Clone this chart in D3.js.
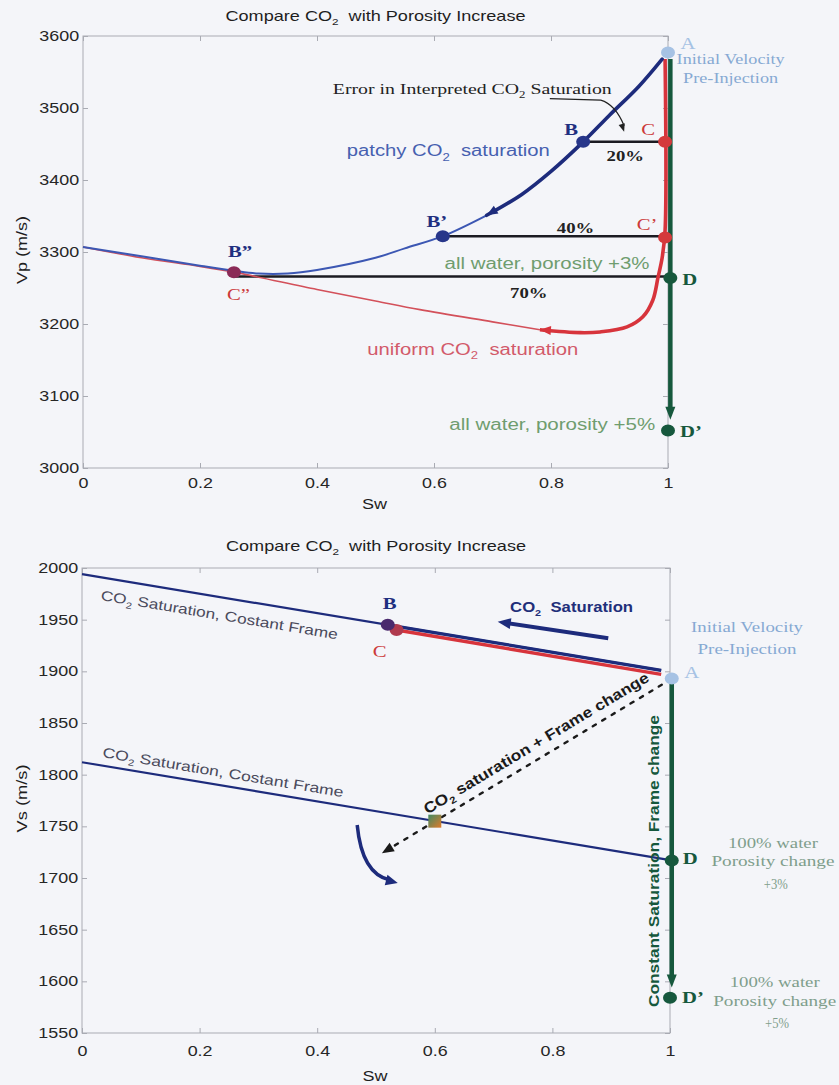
<!DOCTYPE html>
<html>
<head>
<meta charset="utf-8">
<script src="https://cdn.jsdelivr.net/npm/d3@7/dist/d3.min.js"></script>
<style>
  html, body { margin: 0; padding: 0; background: #f4f5f9; }
  svg { display: block; }
  text { white-space: pre; }
</style>
</head>
<body>
<svg id="fig" width="839" height="1085"></svg>
<script>
// ---------- shared axes ----------
const swTicks = [0, 0.2, 0.4, 0.6, 0.8, 1];
const vpTicks = [3000, 3100, 3200, 3300, 3400, 3500, 3600];
const vsTicks = [1550, 1600, 1650, 1700, 1750, 1800, 1850, 1900, 1950, 2000];

// ---------- Vp panel ----------
// patchy CO2 saturation path (Sw, Vp)
const patchySw = [0, 0.1, 0.2, 0.258, 0.3, 0.35, 0.4, 0.5, 0.55, 0.615, 0.69, 0.75, 0.8, 0.855, 0.9, 0.95, 0.99];
const patchyVp = [3307, 3294, 3281, 3274, 3270, 3270, 3275, 3292, 3305, 3322, 3351, 3380, 3412, 3453, 3490, 3530, 3568];
const patchyArrowSw = 0.69;
// uniform CO2 saturation path (Sw, Vp)
const uniformSw = [0, 0.1, 0.2, 0.258, 0.4, 0.5, 0.576, 0.7, 0.781, 0.85, 0.884, 0.93, 0.957, 0.974, 0.983, 0.99, 0.995, 0.995];
const uniformVp = [3307, 3292, 3280, 3272, 3248, 3232, 3220, 3203, 3192, 3188, 3189, 3196, 3210, 3233, 3265, 3292, 3330, 3568];
const uniformArrowSw = 0.781;
// all-water porosity increase path
const porosityVpSw = 1.004;
const porosityVp = [3568, 3067];
// labelled states
const vpPointNames = ['A', 'B', 'C', 'B’', 'C’', 'B”', 'D', 'D’'];
const vpPointSw = [1.0, 0.855, 0.995, 0.615, 0.995, 0.258, 1.004, 1.0];
const vpPointVp = [3577, 3453, 3453, 3322, 3320, 3272, 3264, 3052];
// interpretation error between patchy and uniform
const gapFromSw = [0.855, 0.615, 0.258];
const gapToSw = [0.995, 0.995, 1.0];
const gapVp = [3453, 3322, 3266];
const gapPct = ['20%', '40%', '70%'];

// ---------- Vs panel ----------
const frameSw = [0, 0.985];
const frameVs = [1994, 1901];
const frame2Sw = [0, 1.003];
const frame2Vs = [1812, 1717];
const patchyVsSw = [0.52, 0.985];
const patchyVs = [1945, 1901];
const uniformVsSw = [0.535, 0.985];
const uniformVs = [1940, 1897];
const porosityVsSw = 1.003;
const porosityVs = [1890, 1594];
const combSw = [0.986, 0.51];
const combVs = [1887, 1724];
const mixSw = 0.6, mixVs = 1755;
const vsPointNames = ['A', 'B', 'C', 'D', 'D’'];
const vsPointSw = [1.003, 0.52, 0.535, 1.003, 1.0];
const vsPointVs = [1893, 1945, 1940, 1717, 1584];

// ---------- styling ----------
const SANS = '"Liberation Sans", Arial, Helvetica, sans-serif';
const SERIF = '"Liberation Serif", "Times New Roman", Times, serif';
const AXIS = '#a9abb3';
const STRETCH = 1.28;
const NAVY = '#1d2b7c', BLUE = '#3c57b3', RED = '#d7343c', REDTHIN = '#d3505a',
      GREEN = '#16583d', LIGHTBLUE = '#a6c2e4';

const svg = d3.select('#fig');
svg.append('rect').attr('width', 839).attr('height', 1085).attr('fill', '#f4f5f9');
const defs = svg.append('defs');
const grad = defs.append('linearGradient').attr('id', 'mixFill')
  .attr('x1', '0').attr('y1', '0').attr('x2', '1').attr('y2', '1');
grad.append('stop').attr('offset', '0%').attr('stop-color', '#3f8a63');
grad.append('stop').attr('offset', '100%').attr('stop-color', '#e07a2a');

function addText(parent, o) {
  const sz = o.size || 14;
  const t = parent.append('text')
    .attr('transform', `translate(${o.x},${o.y})` + (o.sx ? ` scale(${o.sx},1)` : '') + (o.rot ? ` rotate(${o.rot})` : ''))
    .attr('font-family', o.fam || SANS)
    .attr('font-size', sz)
    .attr('font-weight', o.bold ? 'bold' : 'normal')
    .attr('fill', o.fill || '#222')
    .attr('text-anchor', o.anchor || 'start');
  if (o.len) t.attr('textLength', o.len).attr('lengthAdjust', 'spacingAndGlyphs');
  const parts = o.s.split('₂');
  parts.forEach((p, i) => {
    if (i > 0) {
      t.append('tspan').attr('dy', sz * 0.28).attr('font-size', sz * 0.65).text('2');
      t.append('tspan').attr('dy', -sz * 0.28).text(p);
    } else if (p) t.append('tspan').text(p);
  });
  return t;
}

function arrowHead(parent, fx, fy, tipX, tipY, len, half, color) {
  const a = Math.atan2(tipY - fy, tipX - fx);
  const bxp = tipX - len * Math.cos(a), byp = tipY - len * Math.sin(a);
  const px = -Math.sin(a) * half, py = Math.cos(a) * half;
  parent.append('path')
    .attr('d', `M${tipX},${tipY}L${bxp + px},${byp + py}L${bxp - px},${byp - py}Z`)
    .attr('fill', color);
}

function dot(parent, x, y, color) {
  parent.append('ellipse').attr('cx', x).attr('cy', y).attr('rx', 7).attr('ry', 6).attr('fill', color);
}

function frame(g, x, y, yTicks, o) {
  const [xl, xr] = x.range();
  const [yb, yt] = y.range();
  const styleTicks = sel => {
    sel.select('.domain').remove();
    sel.selectAll('.tick line').attr('stroke', AXIS);
    sel.selectAll('.tick text').attr('font-family', SANS).attr('font-size', 14).attr('fill', '#262626');
  };
  g.append('rect').attr('x', xl).attr('y', yt).attr('width', xr - xl).attr('height', yb - yt)
    .attr('fill', 'none').attr('stroke', AXIS).attr('stroke-width', 1);
  const xa = g.append('g').attr('transform', `translate(0,${yb})`)
    .call(d3.axisBottom(x).tickValues(swTicks).tickFormat(d3.format('~g')).tickSize(-5).tickPadding(o.xPad));
  styleTicks(xa);
  xa.selectAll('.tick text').attr('transform', `scale(${STRETCH},1)`);
  const ya = g.append('g').attr('transform', `translate(${xl},0)`)
    .call(d3.axisLeft(y).tickValues(yTicks).tickFormat(d3.format('d')).tickSize(-5).tickPadding(3));
  styleTicks(ya);
  ya.selectAll('.tick text').attr('transform', `scale(${STRETCH},1)`);
  styleTicks(g.append('g').attr('transform', `translate(0,${yt})`)
    .call(d3.axisTop(x).tickValues(swTicks).tickFormat(() => '').tickSize(-5)));
  styleTicks(g.append('g').attr('transform', `translate(${xr},0)`)
    .call(d3.axisRight(y).tickValues(yTicks).tickFormat(() => '').tickSize(-5)));
  const cx = (xl + xr) / 2;
  addText(g, { x: cx, y: o.titleY, s: 'Compare CO₂  with Porosity Increase', size: 14.5, anchor: 'middle', len: 300, fill: '#1e1e1e' });
  addText(g, { x: cx - 1, y: o.xLabY, s: 'Sw', size: 14, anchor: 'middle', len: 25, fill: '#1e1e1e' });
  addText(g, { x: 27, y: (yb + yt) / 2 - 2, s: o.yLabel, size: 14, anchor: 'middle', rot: -90, len: 68, fill: '#1e1e1e' });
}

// ================= Vp panel =================
const tx = d3.scaleLinear().domain([0, 1]).range([83, 668]);
const ty = d3.scaleLinear().domain([3000, 3600]).range([468, 36]);
const gTop = svg.append('g');
frame(gTop, tx, ty, vpTicks, { titleY: 21, xLabY: 509, yLabel: 'Vp (m/s)', xPad: 10 });

// error gaps
gapVp.forEach((v, i) => {
  gTop.append('line')
    .attr('x1', tx(gapFromSw[i])).attr('x2', tx(gapToSw[i]))
    .attr('y1', ty(v)).attr('y2', ty(v))
    .attr('stroke', '#1b1b22').attr('stroke-width', 2.5);
});

// porosity increase (all water)
{
  const x = tx(porosityVpSw), y0 = ty(porosityVp[0]), y1 = ty(porosityVp[1]);
  gTop.append('line').attr('x1', x).attr('x2', x).attr('y1', y0).attr('y2', y1 - 10)
    .attr('stroke', GREEN).attr('stroke-width', 4.5);
  arrowHead(gTop, x, y0, x, y1, 13, 5, GREEN);
}

const vpLine = d3.line().x(d => tx(d[0])).y(d => ty(d[1])).curve(d3.curveCatmullRom.alpha(0.5));
const uniformPts = uniformSw.map((s, i) => [s, uniformVp[i]]);
const patchyPts = patchySw.map((s, i) => [s, patchyVp[i]]);

// uniform saturation (red)
gTop.append('path').attr('d', vpLine(uniformPts.filter(d => d[0] <= uniformArrowSw)))
  .attr('fill', 'none').attr('stroke', REDTHIN).attr('stroke-width', 1.6);
gTop.append('path').attr('d', vpLine(uniformPts.filter(d => d[0] >= uniformArrowSw)))
  .attr('fill', 'none').attr('stroke', RED).attr('stroke-width', 3.6).attr('stroke-linejoin', 'round');
{
  const i = uniformSw.indexOf(uniformArrowSw);
  arrowHead(gTop, tx(uniformSw[i + 1]), ty(uniformVp[i + 1]), tx(uniformSw[i]), ty(uniformVp[i]), 11, 4.5, RED);
}

// patchy saturation (blue)
gTop.append('path').attr('d', vpLine(patchyPts.filter(d => d[0] <= patchyArrowSw)))
  .attr('fill', 'none').attr('stroke', BLUE).attr('stroke-width', 2);
gTop.append('path').attr('d', vpLine(patchyPts.filter(d => d[0] >= patchyArrowSw)))
  .attr('fill', 'none').attr('stroke', NAVY).attr('stroke-width', 3.6).attr('stroke-linecap', 'round');
{
  const i = patchySw.indexOf(patchyArrowSw);
  arrowHead(gTop, tx(patchySw[i + 1]), ty(patchyVp[i + 1]), tx(patchySw[i]), ty(patchyVp[i]), 11, 4.5, NAVY);
}

// error annotation arrow
{
  const p0 = [tx(0.798), ty(3513)], p1 = [tx(0.885), ty(3511)], c = [tx(0.91), ty(3505)], p2 = [tx(0.925), ty(3467)];
  gTop.append('path').attr('d', `M${p0}L${p1}Q${c} ${p2[0]},${p2[1] - 6}`)
    .attr('fill', 'none').attr('stroke', '#222').attr('stroke-width', 1.2);
  arrowHead(gTop, c[0], c[1], p2[0], p2[1], 8, 3.2, '#222');
}

// state markers
const vpDotColor = { 'A': LIGHTBLUE, 'B': '#27368a', 'C': '#d43a3c', 'B’': '#27368a', 'C’': '#d43a3c', 'B”': '#8a2a57', 'D': GREEN, 'D’': GREEN };
vpPointNames.forEach((n, i) => dot(gTop, tx(vpPointSw[i]), ty(vpPointVp[i]), vpDotColor[n]));

const vpLabelStyle = {
  'A': { dx: 20, dy: -4, anchor: 'middle', fill: LIGHTBLUE, bold: false },
  'B': { dx: -12, dy: -7, anchor: 'middle', fill: '#1f2f80', bold: true },
  'C': { dx: -17, dy: -7, anchor: 'middle', fill: '#cc3a3a', bold: false },
  'B’': { dx: -6, dy: -9, anchor: 'middle', fill: '#1f2f80', bold: true },
  'C’': { dx: -18, dy: -8, anchor: 'middle', fill: '#cc3a3a', bold: false },
  'B”': { dx: -6, dy: -15, anchor: 'start', fill: '#1f2f80', bold: true },
  'D': { dx: 12, dy: 7, anchor: 'start', fill: GREEN, bold: true },
  'D’': { dx: 12, dy: 6, anchor: 'start', fill: GREEN, bold: true }
};
vpPointNames.forEach((n, i) => {
  const st = vpLabelStyle[n];
  addText(gTop, { x: tx(vpPointSw[i]) + st.dx, y: ty(vpPointVp[i]) + st.dy, s: n, fam: SERIF, size: 17, sx: 1.22,
    anchor: st.anchor, fill: st.fill, bold: st.bold });
});
{
  const i = vpPointNames.indexOf('B”');
  addText(gTop, { x: tx(vpPointSw[i]) - 7, y: ty(vpPointVp[i]) + 28, s: 'C”', fam: SERIF, size: 17, sx: 1.22, fill: '#cc3a3a' });
}

// gap percentages
const pctPos = [[0.927, 3427], [0.842, 3326], [0.762, 3236]];
gapPct.forEach((p, i) => addText(gTop, { x: tx(pctPos[i][0]), y: ty(pctPos[i][1]), s: p, fam: SERIF, size: 15, sx: 1.25,
  bold: true, anchor: 'middle', fill: '#222' }));

addText(gTop, { x: tx(0.427), y: ty(3520), s: 'Error in Interpreted CO₂ Saturation', fam: SERIF, size: 15.5, len: 279, fill: '#222' });
addText(gTop, { x: tx(0.451), y: ty(3433), s: 'patchy CO₂  saturation', size: 16, len: 203, fill: '#4660b0' });
addText(gTop, { x: tx(0.618), y: ty(3276), s: 'all water, porosity +3%', size: 16, len: 205, fill: '#6f9d6f' });
addText(gTop, { x: tx(0.486), y: ty(3157), s: 'uniform CO₂  saturation', size: 16, len: 211, fill: '#d25a6a' });
addText(gTop, { x: tx(0.626), y: ty(3053), s: 'all water, porosity +5%', size: 16, len: 206, fill: '#6f9d6f' });
addText(gTop, { x: tx(1.107), y: ty(3561), s: 'Initial Velocity', fam: SERIF, size: 15, len: 108, anchor: 'middle', fill: '#86a9d3' });
addText(gTop, { x: tx(1.107), y: ty(3535), s: 'Pre-Injection', fam: SERIF, size: 15, len: 95, anchor: 'middle', fill: '#86a9d3' });

// ================= Vs panel =================
const bx = d3.scaleLinear().domain([0, 1]).range([82, 670]);
const by = d3.scaleLinear().domain([1550, 2000]).range([1033, 568]);
const gBot = svg.append('g');
frame(gBot, bx, by, vsTicks, { titleY: 551, xLabY: 1081, yLabel: 'Vs (m/s)', xPad: 13 });

// constant-frame saturation lines
gBot.append('line').attr('x1', bx(frameSw[0])).attr('y1', by(frameVs[0])).attr('x2', bx(frameSw[1])).attr('y2', by(frameVs[1]))
  .attr('stroke', NAVY).attr('stroke-width', 2.2);
gBot.append('line').attr('x1', bx(frame2Sw[0])).attr('y1', by(frame2Vs[0])).attr('x2', bx(frame2Sw[1])).attr('y2', by(frame2Vs[1]))
  .attr('stroke', NAVY).attr('stroke-width', 2.2);

// porosity (frame) change at full water saturation
{
  const x = bx(porosityVsSw), y0 = by(porosityVs[0]), y1 = by(porosityVs[1]);
  gBot.append('line').attr('x1', x).attr('x2', x).attr('y1', y0).attr('y2', y1 - 10)
    .attr('stroke', GREEN).attr('stroke-width', 4.5);
  arrowHead(gBot, x, y0, x, y1, 13, 5, GREEN);
}

// uniform and patchy paths coincide for Vs
gBot.append('line').attr('x1', bx(uniformVsSw[0])).attr('y1', by(uniformVs[0])).attr('x2', bx(uniformVsSw[1])).attr('y2', by(uniformVs[1]))
  .attr('stroke', RED).attr('stroke-width', 3.4);
gBot.append('line').attr('x1', bx(patchyVsSw[0])).attr('y1', by(patchyVs[0])).attr('x2', bx(patchyVsSw[1])).attr('y2', by(patchyVs[1]))
  .attr('stroke', NAVY).attr('stroke-width', 3.2);

// combined saturation + frame change (dashed)
{
  const x0 = bx(combSw[0]), y0 = by(combVs[0]), x1 = bx(combSw[1]), y1 = by(combVs[1]);
  const a = Math.atan2(y1 - y0, x1 - x0);
  gBot.append('line').attr('x1', x0).attr('y1', y0).attr('x2', x1 - 9 * Math.cos(a)).attr('y2', y1 - 9 * Math.sin(a))
    .attr('stroke', '#1a1a1a').attr('stroke-width', 2.4).attr('stroke-dasharray', '3.5,7.5').attr('stroke-linecap', 'round');
  arrowHead(gBot, x0, y0, x1, y1, 12, 5, '#1a1a1a');
  const ang = Math.atan2(y0 - y1, x0 - x1) * 180 / Math.PI;
  addText(gBot, { x: bx(0.777), y: by(1826.3), s: 'CO₂ saturation + Frame change', size: 15, bold: true, rot: ang,
    anchor: 'middle', len: 260, fill: '#1a1a1a' });
}

// mixed state marker
gBot.append('rect').attr('x', bx(mixSw) - 6.5).attr('y', by(mixVs) - 6.5).attr('width', 13).attr('height', 13)
  .attr('fill', 'url(#mixFill)');

// curved arrow
{
  const p0 = [bx(0.468), by(1751.3)], c = [bx(0.476), by(1704)], p1 = [bx(0.537), by(1695.2)];
  gBot.append('path').attr('d', `M${p0}Q${c} ${p1[0] - 8},${p1[1] - 3}`)
    .attr('fill', 'none').attr('stroke', NAVY).attr('stroke-width', 3.5);
  arrowHead(gBot, c[0], c[1], p1[0], p1[1], 12, 5.5, NAVY);
}

// CO2 saturation direction arrow
{
  const p0 = [bx(0.895), by(1932)], p1 = [bx(0.707), by(1948)];
  const a = Math.atan2(p1[1] - p0[1], p1[0] - p0[0]);
  gBot.append('line').attr('x1', p0[0]).attr('y1', p0[1]).attr('x2', p1[0] - 10 * Math.cos(a)).attr('y2', p1[1] - 10 * Math.sin(a))
    .attr('stroke', NAVY).attr('stroke-width', 4);
  arrowHead(gBot, p0[0], p0[1], p1[0], p1[1], 13, 5.5, NAVY);
  addText(gBot, { x: bx(0.728), y: by(1957.4), s: 'CO₂  Saturation', size: 15, bold: true, len: 123, fill: '#1f2f7a' });
}

// state markers
const vsDotColor = { 'A': LIGHTBLUE, 'B': '#4a2a6e', 'C': '#b03a4e', 'D': GREEN, 'D’': GREEN };
['C', 'B', 'A', 'D', 'D’'].forEach(n => {
  const i = vsPointNames.indexOf(n);
  dot(gBot, bx(vsPointSw[i]), by(vsPointVs[i]), vsDotColor[n]);
});
const vsLabelStyle = {
  'A': { dx: 20, dy: -1, anchor: 'middle', fill: LIGHTBLUE, bold: false },
  'B': { dx: 2, dy: -16, anchor: 'middle', fill: '#1f2f80', bold: true },
  'C': { dx: -17, dy: 27, anchor: 'middle', fill: '#cc3a3a', bold: false },
  'D': { dx: 11, dy: 4, anchor: 'start', fill: GREEN, bold: true },
  'D’': { dx: 12, dy: 5, anchor: 'start', fill: GREEN, bold: true }
};
vsPointNames.forEach((n, i) => {
  const st = vsLabelStyle[n];
  addText(gBot, { x: bx(vsPointSw[i]) + st.dx, y: by(vsPointVs[i]) + st.dy, s: n, fam: SERIF, size: 17, sx: 1.22,
    anchor: st.anchor, fill: st.fill, bold: st.bold });
});

// line captions
{
  const a1 = Math.atan2(by(frameVs[1]) - by(frameVs[0]), bx(frameSw[1]) - bx(frameSw[0])) * 180 / Math.PI;
  addText(gBot, { x: bx(0.031), y: by(1969), s: 'CO₂ Saturation, Costant Frame', size: 14, rot: a1, len: 240, fill: '#4a4a5c' });
  const a2 = Math.atan2(by(frame2Vs[1]) - by(frame2Vs[0]), bx(frame2Sw[1]) - bx(frame2Sw[0])) * 180 / Math.PI;
  addText(gBot, { x: bx(0.034), y: by(1817), s: 'CO₂ Saturation, Costant Frame', size: 14, rot: a2, len: 244, fill: '#4a4a5c' });
}
addText(gBot, { x: bx(0.981), y: by(1716.4), s: 'Constant Saturation, Frame change', size: 15, bold: true, rot: -90,
  anchor: 'middle', len: 292, fill: GREEN });

addText(gBot, { x: bx(1.131), y: by(1938), s: 'Initial Velocity', fam: SERIF, size: 15, len: 112, anchor: 'middle', fill: '#86a9d3' });
addText(gBot, { x: bx(1.131), y: by(1917), s: 'Pre-Injection', fam: SERIF, size: 15, len: 99, anchor: 'middle', fill: '#86a9d3' });

const noteColor = '#7f9e8c';
addText(gBot, { x: bx(1.175), y: by(1729), s: '100% water', fam: SERIF, size: 15, len: 90, anchor: 'middle', fill: noteColor });
addText(gBot, { x: bx(1.175), y: by(1711.6), s: 'Porosity change', fam: SERIF, size: 15, len: 123, anchor: 'middle', fill: noteColor });
addText(gBot, { x: bx(1.18), y: by(1689), s: '+3%', fam: SERIF, size: 15, len: 24, anchor: 'middle', fill: noteColor });
addText(gBot, { x: bx(1.178), y: by(1594.5), s: '100% water', fam: SERIF, size: 15, len: 90, anchor: 'middle', fill: noteColor });
addText(gBot, { x: bx(1.178), y: by(1576), s: 'Porosity change', fam: SERIF, size: 15, len: 123, anchor: 'middle', fill: noteColor });
addText(gBot, { x: bx(1.182), y: by(1555), s: '+5%', fam: SERIF, size: 15, len: 24, anchor: 'middle', fill: noteColor });
</script>
</body>
</html>
